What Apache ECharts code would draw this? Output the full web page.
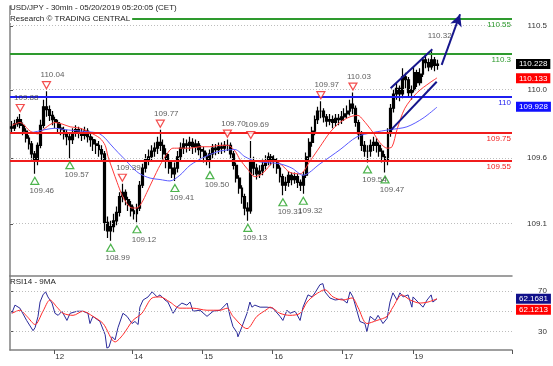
<!DOCTYPE html>
<html><head><meta charset="utf-8">
<script src="https://cdn.jsdelivr.net/npm/echarts@6/dist/echarts.min.js"></script>
<style>html,body{margin:0;padding:0;background:#fff}#c{width:553px;height:366px}</style>
</head><body><div id="c"></div>
<script>
// ---- data ----
const sessions = [['10',9,24],['12',21,24],['13',0,24],['14',0,24],['15',0,24],['16',0,24],['17',0,24],['19',21,24],['20',0,6]];
const labeledDays = ['12','14','15','16','17','19'];
const emptySlots = 25;
// hourly candles: [open, close, low, high]
const ohlc = [
[109.79,109.78,109.74,109.83],[109.78,109.81,109.76,109.84],[109.81,109.84,109.79,109.86],[109.84,109.80,109.78,109.88],
[109.80,109.76,109.73,109.82],[109.76,109.71,109.68,109.78],[109.71,109.67,109.63,109.73],[109.67,109.60,109.56,109.69],
[109.60,109.55,109.46,109.62],[109.55,109.66,109.52,109.68],[109.66,109.80,109.64,109.84],[109.80,109.93,109.78,109.98],
[109.93,109.91,109.86,110.04],[109.91,109.87,109.83,109.94],[109.87,109.84,109.80,109.90],[109.84,109.82,109.78,109.86],
[109.82,109.78,109.75,109.84],[109.78,109.77,109.73,109.81],[109.77,109.74,109.70,109.79],[109.74,109.72,109.66,109.77],
[109.72,109.70,109.57,109.75],[109.70,109.75,109.67,109.78],[109.75,109.77,109.72,109.80],[109.77,109.75,109.71,109.79],
[109.75,109.73,109.69,109.78],[109.73,109.76,109.70,109.79],[109.76,109.72,109.68,109.78],[109.72,109.70,109.65,109.74],
[109.70,109.67,109.62,109.72],[109.67,109.66,109.60,109.70],[109.66,109.63,109.58,109.69],[109.63,109.60,109.55,109.66],
[109.60,109.12,109.06,109.62],[109.12,109.06,109.01,109.16],[109.06,109.09,108.99,109.13],[109.09,109.13,109.05,109.18],
[109.13,109.19,109.10,109.23],[109.19,109.30,109.16,109.33],[109.30,109.33,109.26,109.39],[109.33,109.28,109.24,109.35],
[109.28,109.24,109.20,109.30],[109.24,109.20,109.16,109.27],[109.20,109.18,109.14,109.23],[109.18,109.22,109.12,109.25],
[109.22,109.38,109.20,109.41],[109.38,109.50,109.36,109.53],[109.50,109.56,109.47,109.60],[109.56,109.58,109.52,109.63],
[109.58,109.62,109.55,109.66],[109.62,109.64,109.58,109.68],[109.64,109.68,109.60,109.72],[109.68,109.66,109.62,109.77],
[109.66,109.60,109.56,109.70],[109.60,109.55,109.50,109.64],[109.55,109.50,109.46,109.60],[109.50,109.46,109.43,109.55],
[109.46,109.50,109.41,109.54],[109.50,109.58,109.47,109.62],[109.58,109.64,109.55,109.68],[109.64,109.67,109.60,109.71],
[109.67,109.66,109.61,109.70],[109.66,109.68,109.62,109.72],[109.68,109.65,109.60,109.71],[109.65,109.67,109.61,109.70],
[109.67,109.63,109.59,109.69],[109.63,109.62,109.57,109.66],[109.62,109.58,109.54,109.65],[109.58,109.56,109.52,109.61],
[109.56,109.60,109.50,109.63],[109.60,109.64,109.57,109.67],[109.64,109.63,109.59,109.67],[109.63,109.65,109.60,109.68],
[109.65,109.64,109.60,109.68],[109.64,109.66,109.61,109.69],[109.66,109.66,109.62,109.70],[109.66,109.60,109.57,109.68],
[109.60,109.52,109.49,109.62],[109.52,109.43,109.40,109.54],[109.43,109.36,109.32,109.45],[109.36,109.30,109.25,109.38],
[109.30,109.22,109.17,109.32],[109.22,109.20,109.13,109.26],[109.20,109.55,109.18,109.69],[109.55,109.50,109.45,109.58],
[109.50,109.46,109.42,109.53],[109.46,109.48,109.43,109.52],[109.48,109.52,109.45,109.56],[109.52,109.55,109.49,109.59],
[109.55,109.58,109.52,109.61],[109.58,109.56,109.52,109.60],[109.56,109.55,109.50,109.59],[109.55,109.50,109.46,109.57],
[109.50,109.44,109.40,109.52],[109.44,109.38,109.31,109.46],[109.38,109.40,109.34,109.44],[109.40,109.45,109.37,109.48],
[109.45,109.42,109.38,109.47],[109.42,109.44,109.39,109.47],[109.44,109.40,109.36,109.46],[109.40,109.38,109.34,109.42],
[109.38,109.45,109.32,109.48],[109.45,109.58,109.43,109.61],[109.58,109.68,109.55,109.71],[109.68,109.76,109.65,109.79],
[109.76,109.84,109.73,109.87],[109.84,109.90,109.81,109.93],[109.90,109.90,109.85,109.97],[109.90,109.86,109.82,109.92],
[109.86,109.83,109.79,109.88],[109.83,109.84,109.80,109.88],[109.84,109.82,109.78,109.87],[109.82,109.85,109.79,109.88],
[109.85,109.84,109.80,109.88],[109.84,109.86,109.81,109.90],[109.86,109.88,109.83,109.92],[109.88,109.90,109.85,109.94],
[109.90,109.95,109.87,109.98],[109.95,109.92,109.88,110.03],[109.92,109.82,109.79,109.94],[109.82,109.74,109.70,109.84],
[109.74,109.66,109.62,109.76],[109.66,109.62,109.58,109.69],[109.62,109.62,109.54,109.66],[109.62,109.66,109.58,109.70],
[109.66,109.68,109.62,109.72],[109.68,109.66,109.61,109.71],[109.66,109.62,109.58,109.68],[109.62,109.58,109.54,109.64],
[109.58,109.55,109.47,109.60],[109.55,109.75,109.52,109.78],[109.75,109.92,109.72,109.95],[109.92,110.02,109.89,110.05],
[110.02,110.06,109.98,110.10],[110.06,110.02,109.97,110.08],[110.02,110.14,109.99,110.20],[110.14,110.12,110.06,110.17],
[110.12,110.03,110.00,110.14],[110.03,110.05,109.98,110.08],[110.05,110.17,110.03,110.21],[110.17,110.10,110.07,110.19],
[110.10,110.16,110.08,110.20],[110.16,110.26,110.14,110.28],[110.26,110.24,110.20,110.30],[110.24,110.21,110.18,110.27],
[110.21,110.26,110.19,110.32],[110.26,110.22,110.18,110.28],[110.22,110.23,110.19,110.26]
];
// moving averages / RSI: [position in bar units, value]
const fastMA = [[0.7,109.80],[3.4,109.82],[6.9,109.76],[9.6,109.74],[12.0,109.78],[15.4,109.82],[17.8,109.81],[20.6,109.79],[24.0,109.78],[27.4,109.75],[30.8,109.71],[32.6,109.66],[33.6,109.58],[35.3,109.48],[36.7,109.40],[38.4,109.31],[40.1,109.25],[41.8,109.22],[43.5,109.22],[45.2,109.26],[46.9,109.33],[49.0,109.42],[51.4,109.52],[53.8,109.60],[55.8,109.64],[58.2,109.64],[61.7,109.64],[65.1,109.65],[68.5,109.65],[72.0,109.66],[74.6,109.66],[77.1,109.62],[78.8,109.56],[81.5,109.49],[83.9,109.44],[86.4,109.46],[89.1,109.52],[90.8,109.55],[93.2,109.52],[95.9,109.47],[99.4,109.46],[102.8,109.55],[106.2,109.65],[109.6,109.75],[113.0,109.82],[116.5,109.86],[119.2,109.87],[120.9,109.84],[124.4,109.75],[126.7,109.68],[129.2,109.64],[130.9,109.65],[132.6,109.77],[135.3,109.92],[139.5,110.03],[143.9,110.10],[146.3,110.133]];
const slowMA = [[0.7,109.75],[6.9,109.75],[12.0,109.77],[15.4,109.78],[18.8,109.77],[24.0,109.76],[29.1,109.75],[30.8,109.74],[32.6,109.71],[34.3,109.67],[37.0,109.61],[39.4,109.56],[42.1,109.50],[44.5,109.46],[48.0,109.43],[51.4,109.42],[54.8,109.41],[58.2,109.45],[61.7,109.52],[66.8,109.58],[72.0,109.62],[77.1,109.63],[80.5,109.58],[83.9,109.55],[87.4,109.54],[92.5,109.53],[96.6,109.50],[100.4,109.45],[106.2,109.53],[113.1,109.63],[118.9,109.72],[124.4,109.75],[130.2,109.77],[136.0,109.79],[141.5,109.85],[146.3,109.928]];
const rsi = [[0.6,48],[1.7,56],[3.4,53],[5.7,41],[7.9,31],[8.6,34],[9.6,45],[10.3,59],[11.3,66],[12.2,69],[13.0,64],[14.4,58],[15.4,48],[16.5,46],[17.8,50],[19.5,41],[20.6,48],[23.0,50],[25.0,50],[26.7,48],[27.4,38],[28.4,45],[30.8,40],[32.6,27],[33.2,14],[33.9,15],[35.0,25],[36.0,22],[37.0,34],[38.7,48],[40.1,45],[41.8,38],[42.8,40],[43.9,37],[44.5,54],[45.6,61],[47.3,64],[48.7,69],[50.4,64],[51.4,66],[53.1,61],[54.1,59],[55.9,48],[57.2,54],[58.9,58],[60.6,56],[61.7,59],[62.7,50],[65.1,51],[67.5,45],[69.6,50],[72.0,51],[74.4,58],[75.4,45],[76.4,35],[77.8,29],[78.1,25],[79.5,35],[81.2,48],[82.2,59],[82.9,54],[83.9,56],[85.7,54],[88.1,54],[90.1,53],[92.5,45],[93.5,41],[94.9,51],[95.9,48],[97.7,50],[99.4,41],[100.4,54],[102.1,66],[103.5,64],[104.5,68],[106.2,76],[107.2,77],[107.9,69],[109.6,63],[111.4,61],[113.8,62],[115.5,58],[116.5,69],[117.5,64],[118.9,50],[119.9,40],[121.6,38],[122.3,30],[123.4,45],[125.1,41],[126.1,46],[127.8,38],[129.2,43],[130.2,59],[131.2,68],[132.6,61],[133.6,68],[134.7,64],[136.4,66],[137.7,54],[138.1,64],[139.8,59],[141.5,54],[142.9,61],[144.3,66],[144.9,59],[146.3,62.17]];
const rsiMA = [[0.7,48],[3.4,51],[5.8,45],[8.6,37],[11.3,50],[13.7,61],[16.1,54],[18.2,48],[21.6,46],[25.0,50],[28.4,45],[31.9,38],[36.0,20],[38.7,27],[42.1,41],[45.2,48],[48.7,63],[51.4,64],[54.8,59],[58.2,53],[62.7,53],[67.5,51],[72.0,51],[74.4,53],[76.4,45],[81.2,33],[84.6,45],[88.1,52],[89.1,54],[92.5,48],[95.9,46],[99.4,48],[101.8,59],[104.5,66],[107.9,71],[110.7,64],[114.1,61],[117.2,63],[119.2,54],[122.3,38],[125.7,41],[129.2,45],[131.2,54],[134.3,66],[137.1,61],[140.5,58],[143.2,59],[146.3,62.12]];
const levelValues = [110.55, 110.3, 110.0, 109.75, 109.55];
const levelTexts = ['110.55', '110.3', '110', '109.75', '109.55'];
const highMarks = [[3,109.88],[12,110.04],[38,109.39],[51,109.77],[74,109.70],[82,109.69],[106,109.97],[117,110.03]];
const lowMarks = [[8,109.46],[20,109.57],[34,108.99],[43,109.12],[56,109.41],[68,109.50],[81,109.13],[93,109.31],[100,109.32],[122,109.54],[128,109.47]];
const textOnlyMarks = [[144,110.32]];
const channelUpper = [[130.4,110.06],[144.7,110.334]];
const channelLower = [[130.5,109.767],[146.2,110.106]];
const arrowPath = [[147.9,110.224],[154.2,110.58]];
const lastClose = 110.228, lastFast = 110.133, lastSlow = 109.928, lastRsi = 62.1681, lastRsiMA = 62.1213;
const priceTicks = [109.108, 109.571, 110.048, 110.497];
const rsiTicks = [30, 50, 70];
const rsiLabelTicks = [30, 70];

// ---- styles ----
const levelColors = ['#2e9a2e', '#2e9a2e', '#1f1ff0', '#f01c1c', '#f01c1c'];
const FONT = 'Liberation Sans, Arial, sans-serif';
const hidden = {color: 'rgba(0,0,0,0)', width: 1, type: 'solid'};

// ---- build categories ----
const categories = [];
const labelIdx = new Set();
sessions.forEach(([d, h0, h1]) => {
  if (labeledDays.includes(d)) labelIdx.add(categories.length);
  for (let h = h0; h < h1; h++) categories.push(d + ' ' + (h < 10 ? '0' : '') + h + ':00');
});
for (let k = 0; k < emptySlots; k++) categories.push('pad' + k);
const N = categories.length;

const chart = echarts.init(document.getElementById('c'), null, {renderer: 'canvas'});
const dotted = {type: [1, 2], color: '#bdbdbd', width: 1};
const boxLabel = (txt, bg, extra) => Object.assign({show: true, position: 'end', distance: 4, formatter: txt,
  backgroundColor: bg, color: '#fff', padding: [1, 3, 1, 3], fontSize: 8, fontFamily: FONT}, extra || {});

const option = {
  animation: false,
  backgroundColor: '#fff',
  textStyle: {fontFamily: FONT},
  grid: [
    {left: 10, right: 41, top: 6, bottom: 90},
    {left: 10, right: 41, top: 276, bottom: 16}
  ],
  xAxis: [
    {type: 'category', gridIndex: 0, data: categories, boundaryGap: true,
     axisLine: {show: true, lineStyle: {color: '#808080', width: 1.5}},
     axisTick: {show: false}, axisLabel: {show: false}, splitLine: {show: false}},
    {type: 'value', gridIndex: 0, min: 0, max: N, show: false},
    {type: 'category', gridIndex: 1, data: categories, boundaryGap: true,
     axisLine: {show: true, lineStyle: {color: '#808080', width: 1.5}},
     axisTick: {show: true, length: 4, interval: (i) => labelIdx.has(i), lineStyle: {color: '#555'}},
     axisLabel: {show: true, interval: (i) => labelIdx.has(i), align: 'left', margin: 3,
       fontSize: 8, color: '#333', fontFamily: FONT, formatter: (v) => v.split(' ')[0]},
     splitLine: {show: false}},
    {type: 'value', gridIndex: 1, min: 0, max: N, show: false}
  ],
  yAxis: [
    {type: 'value', gridIndex: 0, position: 'right', min: 108.743, max: 110.6377, scale: true,
     axisLine: {show: true, lineStyle: {color: '#808080', width: 1.5}},
     axisTick: {show: true, length: 3, customValues: priceTicks, lineStyle: {color: '#555'}},
     axisLabel: {show: true, customValues: priceTicks, formatter: (v) => v.toFixed(1), align: 'right', margin: 35,
       fontSize: 8, color: '#333', fontFamily: FONT},
     splitLine: {show: false}},
    {type: 'value', gridIndex: 1, position: 'right', min: 12.1, max: 84.47,
     axisLine: {show: true, lineStyle: {color: '#808080', width: 1.5}},
     axisTick: {show: true, length: 3, customValues: rsiTicks, lineStyle: {color: '#555'}},
     axisLabel: {show: true, customValues: rsiLabelTicks, formatter: (v) => String(v), align: 'right', margin: 35,
       fontSize: 8, color: '#333', fontFamily: FONT},
     splitLine: {show: false}}
  ],
  graphic: [
    {type: 'text', left: 10, top: 4, z: 100, style: {text: 'USD/JPY - 30min - 05/20/2019 05:20:05 (CET)', font: '8px ' + FONT, fill: '#222'}},
    {type: 'text', left: 10, top: 15, z: 100, style: {text: 'Research © TRADING CENTRAL', font: '8px ' + FONT, fill: '#222', backgroundColor: '#fff', padding: [0, 2, 0, 0]}},
    {type: 'text', left: 10, top: 278, z: 100, style: {text: 'RSI14 - 9MA', font: '8px ' + FONT, fill: '#222'}}
  ],
  series: [
    {type: 'line', xAxisIndex: 0, yAxisIndex: 0, data: [], silent: true,
     markLine: {silent: true, symbol: 'none', label: {show: false}, lineStyle: dotted,
       data: priceTicks.map(v => ({yAxis: v}))}},
    {type: 'line', xAxisIndex: 2, yAxisIndex: 1, data: [], silent: true,
     markLine: {silent: true, symbol: 'none', label: {show: false}, lineStyle: dotted,
       data: rsiTicks.map(v => ({yAxis: v}))}},
    {type: 'candlestick', xAxisIndex: 0, yAxisIndex: 0, data: ohlc, barWidth: 2.4,
     itemStyle: {color: '#000', color0: '#000', borderColor: '#000', borderColor0: '#000', borderWidth: 1.2}},
    {type: 'line', xAxisIndex: 0, yAxisIndex: 0, data: [], z: 3,
     markLine: {silent: true, symbol: 'none',
       data: levelValues.map((v, i) => ({yAxis: v,
         lineStyle: {color: levelColors[i], width: 2, type: 'solid'},
         label: {show: true, position: 'insideEndBottom', formatter: levelTexts[i], color: levelColors[i], fontSize: 8, fontFamily: FONT, distance: [1, 2]}}))}},
    {type: 'line', name: 'fast', xAxisIndex: 1, yAxisIndex: 0, data: fastMA, smooth: 0.3, showSymbol: false,
     lineStyle: {color: '#ff3a3a', width: 1}, z: 4},
    {type: 'line', name: 'slow', xAxisIndex: 1, yAxisIndex: 0, data: slowMA, smooth: 0.3, showSymbol: false,
     lineStyle: {color: '#5a5aff', width: 1}, z: 4},
    {type: 'line', xAxisIndex: 1, yAxisIndex: 0, data: channelUpper, showSymbol: false, lineStyle: {color: '#16168c', width: 2}, z: 5},
    {type: 'line', xAxisIndex: 1, yAxisIndex: 0, data: channelLower, showSymbol: false, lineStyle: {color: '#16168c', width: 2}, z: 5,
     markLine: {silent: true, symbol: ['none', 'arrow'], symbolSize: [9, 12],
       lineStyle: {color: '#16168c', width: 2, type: 'solid'}, label: {show: false},
       data: [[{coord: arrowPath[0]}, {coord: arrowPath[1]}]]}},
    {type: 'line', xAxisIndex: 0, yAxisIndex: 0, data: [], z: 10,
     markLine: {silent: true, symbol: 'none', lineStyle: hidden,
       data: [
         {yAxis: lastClose, lineStyle: hidden, label: boxLabel(String(lastClose), '#000')},
         {yAxis: lastFast, lineStyle: hidden, label: boxLabel(String(lastFast), '#f00')},
         {yAxis: lastSlow, lineStyle: hidden, label: boxLabel(String(lastSlow), '#1010ff')}
       ]}},
    {type: 'scatter', xAxisIndex: 0, yAxisIndex: 0, data: highMarks, symbol: 'triangle', symbolRotate: 180, symbolSize: [8, 7], symbolOffset: [0, -6], z: 6,
     itemStyle: {color: '#fff', borderColor: '#f02020', borderWidth: 1.2},
     label: {show: true, position: 'top', distance: 2, offset: [6, 0], fontSize: 8, color: '#333', fontFamily: FONT, formatter: (p) => p.value[1].toFixed(2)}},
    {type: 'scatter', xAxisIndex: 0, yAxisIndex: 0, data: lowMarks, symbol: 'triangle', symbolSize: [8, 7], symbolOffset: [0, 7], z: 6,
     itemStyle: {color: '#fff', borderColor: '#20a020', borderWidth: 1.2},
     label: {show: true, position: 'bottom', distance: 2, offset: [7, 0], fontSize: 8, color: '#333', fontFamily: FONT, formatter: (p) => p.value[1].toFixed(2)}},
    {type: 'scatter', xAxisIndex: 0, yAxisIndex: 0, data: textOnlyMarks, symbol: 'rect', symbolSize: [8, 7], symbolOffset: [0, -6], z: 6,
     itemStyle: {color: 'rgba(0,0,0,0)', borderWidth: 0},
     label: {show: true, position: 'top', distance: 2, offset: [8, 0], fontSize: 8, color: '#333', fontFamily: FONT, formatter: (p) => p.value[1].toFixed(2)}},
    {type: 'line', xAxisIndex: 3, yAxisIndex: 1, data: rsi, showSymbol: false, lineStyle: {color: '#2a2a9a', width: 1}, z: 4},
    {type: 'line', xAxisIndex: 3, yAxisIndex: 1, data: rsiMA, smooth: 0.3, showSymbol: false, lineStyle: {color: '#ff2a2a', width: 1}, z: 4},
    {type: 'line', xAxisIndex: 2, yAxisIndex: 1, data: [], z: 10,
     markLine: {silent: true, symbol: 'none', lineStyle: hidden,
       data: [
         {yAxis: lastRsi, lineStyle: hidden, label: boxLabel(String(lastRsi), '#10108a')},
         {yAxis: lastRsiMA, lineStyle: hidden, label: boxLabel(String(lastRsiMA), '#f00', {offset: [0, 11]})}
       ]}}
  ]
};
chart.setOption(option);
</script>
</body></html>
